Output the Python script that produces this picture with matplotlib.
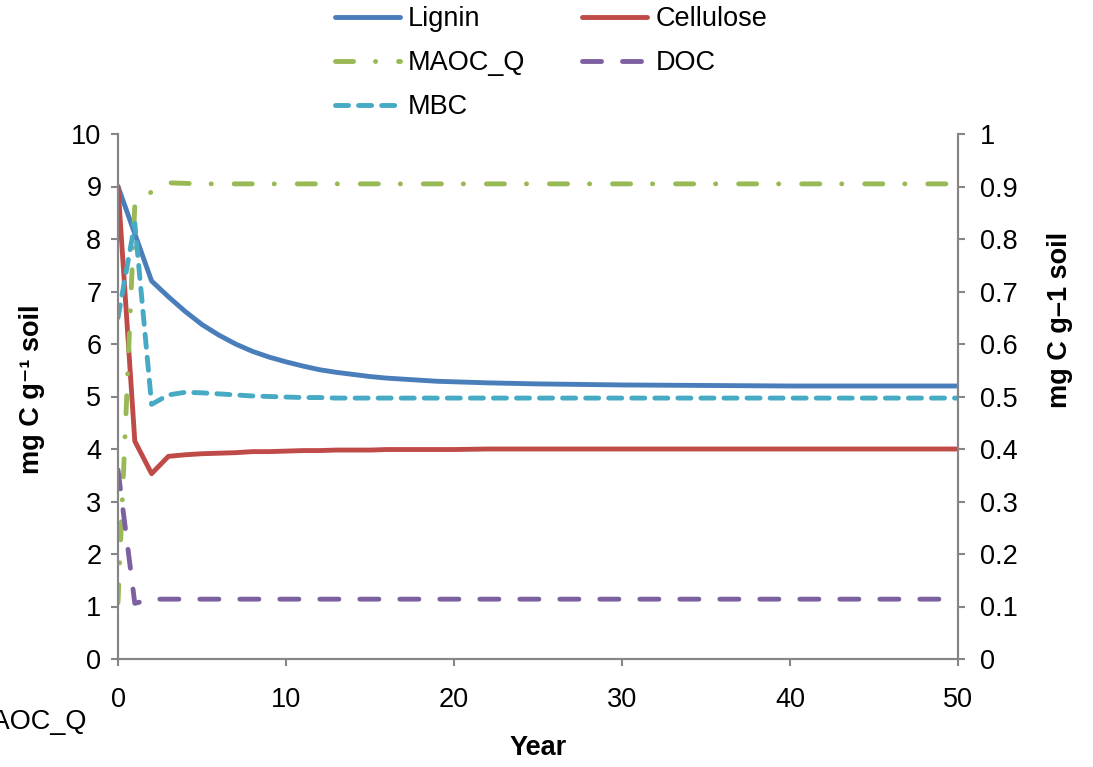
import numpy as np
import matplotlib
matplotlib.use("Agg")
import matplotlib.pyplot as plt

plt.rcParams['font.family'] = ['Liberation Sans', 'DejaVu Sans']
plt.rcParams['lines.scale_dashes'] = False

# years on the x axis
years = [0, 1, 2, 3, 4, 5, 6, 7, 8, 9, 10, 11, 12, 13, 14, 15, 16, 17, 18, 19, 20,
         22, 25, 30, 35, 40, 45, 50]

# left axis (mg C g-1 soil)
lignin = [9.0, 8.1, 7.2, 6.9, 6.62, 6.37, 6.17, 6.0, 5.86, 5.75, 5.66, 5.58, 5.51, 5.46,
          5.42, 5.38, 5.35, 5.33, 5.31, 5.29, 5.28, 5.26, 5.24, 5.22, 5.21, 5.2, 5.2, 5.2]
cellulose = [9.0, 4.15, 3.53, 3.86, 3.89, 3.91, 3.92, 3.93, 3.95, 3.95, 3.96, 3.97, 3.97, 3.98,
             3.98, 3.98, 3.99, 3.99, 3.99, 3.99, 3.99, 4.0, 4.0, 4.0, 4.0, 4.0, 4.0, 4.0]

# right axis (mg C g-1 soil)
maoc_q = [0.107, 0.865, 0.89, 0.907, 0.906, 0.905, 0.905, 0.905, 0.905, 0.905, 0.905, 0.905,
          0.905, 0.905, 0.905, 0.905, 0.905, 0.905, 0.905, 0.905, 0.905, 0.905, 0.905, 0.905,
          0.905, 0.905, 0.905, 0.905]
doc = [0.36, 0.106, 0.114, 0.114, 0.114, 0.114, 0.114, 0.114, 0.114, 0.114, 0.114, 0.114,
       0.114, 0.114, 0.114, 0.114, 0.114, 0.114, 0.114, 0.114, 0.114, 0.114, 0.114, 0.114,
       0.114, 0.114, 0.114, 0.114]
mbc = [0.65, 0.83, 0.485, 0.503, 0.508, 0.507, 0.505, 0.503, 0.501, 0.5, 0.499, 0.498, 0.498,
       0.497, 0.497, 0.497, 0.497, 0.497, 0.497, 0.497, 0.497, 0.497, 0.497, 0.497, 0.497,
       0.497, 0.497, 0.497]

W, H = 1093, 767
fig = plt.figure(figsize=(W / 100, H / 100), dpi=100)
ax = fig.add_axes([118 / W, 1 - 659 / H, 840 / W, 525 / H])
ax2 = ax.twinx()

fs = 19.5
grey = "#868686"
lw = 3.5

l1, = ax.plot(years, lignin, color="#4A7EBB", lw=lw, solid_capstyle="round", label="Lignin")
l2, = ax.plot(years, cellulose, color="#BE4B48", lw=lw, solid_capstyle="round", label="Cellulose")
l3, = ax2.plot(years, maoc_q, color="#98B954", lw=lw, dash_capstyle="round",
               dashes=(13, 15.8, 0.1, 16.5), label="MAOC_Q")
l4, = ax2.plot(years, doc, color="#7D60A0", lw=lw, dash_capstyle="round",
               dashes=(13.7, 15.1), label="DOC")
l5, = ax2.plot(years, mbc, color="#46AAC5", lw=lw, dash_capstyle="round",
               dashes=(9.4, 7.2), label="MBC")

ax.set_xlim(0, 50)
ax.set_ylim(0, 10)
ax2.set_ylim(0, 1)
ax.set_xticks([0, 10, 20, 30, 40, 50])
ax.set_yticks(range(0, 11))
ax2.set_yticks(np.round(np.arange(0, 1.01, 0.1), 1))
ax2.set_yticklabels(["0", "0.1", "0.2", "0.3", "0.4", "0.5", "0.6", "0.7", "0.8", "0.9", "1"])

for a in (ax, ax2):
    for s in a.spines.values():
        s.set_color(grey)
        s.set_linewidth(1.5)
    a.spines["top"].set_visible(False)
    a.tick_params(colors=grey, labelcolor="black", labelsize=fs, length=5, width=1.5)
ax.tick_params(axis="y", pad=7)
ax2.tick_params(axis="y", pad=11)
ax.tick_params(axis="x", pad=15)

ax.set_ylabel("mg C g\u207b\u00b9 soil", fontsize=fs, fontweight="bold", va="center")
ax.yaxis.set_label_coords((32 - 118) / 840, (659 - 389) / 525)
ax2.set_ylabel("mg C g\u20131 soil", fontsize=fs, fontweight="bold", va="center")
ax2.yaxis.set_label_coords((1060 - 118) / 840, (659 - 320) / 525)
ax.set_xlabel("Year", fontsize=fs, fontweight="bold", va="center")
ax.xaxis.set_label_coords(0.5, (659 - 748) / 525)

fig.legend([l1, l3, l5, l2, l4], ["Lignin", "MAOC_Q", "MBC", "Cellulose", "DOC"],
           ncol=2, loc="upper left", bbox_to_anchor=(335 / W, 1 - 6 / H),
           frameon=False, fontsize=fs, borderpad=0, borderaxespad=0,
           handlelength=2.4, handletextpad=0.3, columnspacing=2.1, labelspacing=0.67)

fig.text(87 / W, 1 - 722 / H, "MAOC_Q", fontsize=fs, ha="right", va="center")

fig.savefig("out.png", dpi=100)
